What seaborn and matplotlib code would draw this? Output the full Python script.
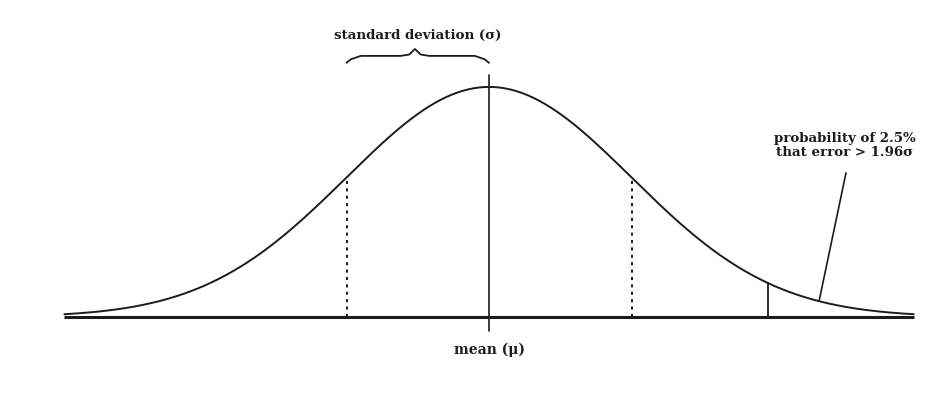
import numpy as np
import pandas as pd
import matplotlib
matplotlib.use("Agg")
import matplotlib.pyplot as plt
import seaborn as sns

# parametros da distribuicao (em unidades de sigma)
mean = 0.0
sd = 1.0
sd_marks = [-1.0, 1.0]      # linhas tracejadas (+/- 1 sigma)
tail_cut = 1.96             # linha do corte de 2.5%
tail_point = 2.316          # onde a seta toca a curva
x_range = [-2.98, 2.98]

label_sd = "standard deviation (\u03c3)"
label_mean = "mean (\u03bc)"
label_tail = "probability of 2.5%\nthat error > 1.96\u03c3"

ink = "#1c1c1c"

def dens(x):
    # densidade normal, normalizada pelo pico
    return np.exp(-0.5 * ((np.asarray(x) - mean) / sd) ** 2)

xs = np.linspace(x_range[0], x_range[1], 600)
df = pd.DataFrame({"x": xs, "y": dens(xs)})

sns.set_theme(style="white")
plt.rcParams['font.family'] = ['DejaVu Serif']

fig = plt.figure(figsize=(9.52, 4.08), dpi=100)
ax = fig.add_axes([0, 0, 1, 1])
ax.set_xlim(-3.432, 3.249)
ax.set_ylim(-0.396, 1.378)
ax.axis('off')

# curva
sns.lineplot(data=df, x="x", y="y", color=ink, lw=1.4, ax=ax)

# eixo base
ax.plot(x_range, [0, 0], color=ink, lw=2.2, solid_capstyle='butt')

# media
ax.plot([mean, mean], [-0.061, 1.052], color=ink, lw=1.2)

# +/- 1 sigma
for m in sd_marks:
    ax.plot([m, m], [0, dens(m)], color=ink, lw=1.4, ls=(0, (1.6, 2.2)))

# corte 1.96
ax.plot([tail_cut, tail_cut], [0, dens(tail_cut)], color=ink, lw=1.3)

# chave sobre o intervalo de um sigma
bl, br = mean - sd, mean
tip = (bl + br) / 2 - 0.02
y0, yb, yt = 1.105, 1.135, 1.165
bx = [bl, bl + 0.03, bl + 0.1, tip - 0.1, tip - 0.04, tip, tip + 0.04, tip + 0.1, br - 0.1, br - 0.03, br]
by = [y0, yb - 0.015, yb, yb, yb + 0.006, yt, yb + 0.006, yb, yb, yb - 0.015, y0]
ax.plot(bx, by, color=ink, lw=1.3)

ax.text(-0.50, 1.225, label_sd, ha='center', va='center', fontsize=9.6,
        fontweight='bold', color=ink)
ax.text(mean, -0.143, label_mean, ha='center', va='center', fontsize=10,
        fontweight='bold', color=ink)

# texto e seta para a cauda
ax.text(2.498, 0.745, label_tail, ha='center', va='center', fontsize=9.6,
        fontweight='bold', color=ink, linespacing=1.15)
ax.plot([2.505, tail_point], [0.626, dens(tail_point)], color=ink, lw=1.2)

fig.savefig("out.png", dpi=100, facecolor='white')
